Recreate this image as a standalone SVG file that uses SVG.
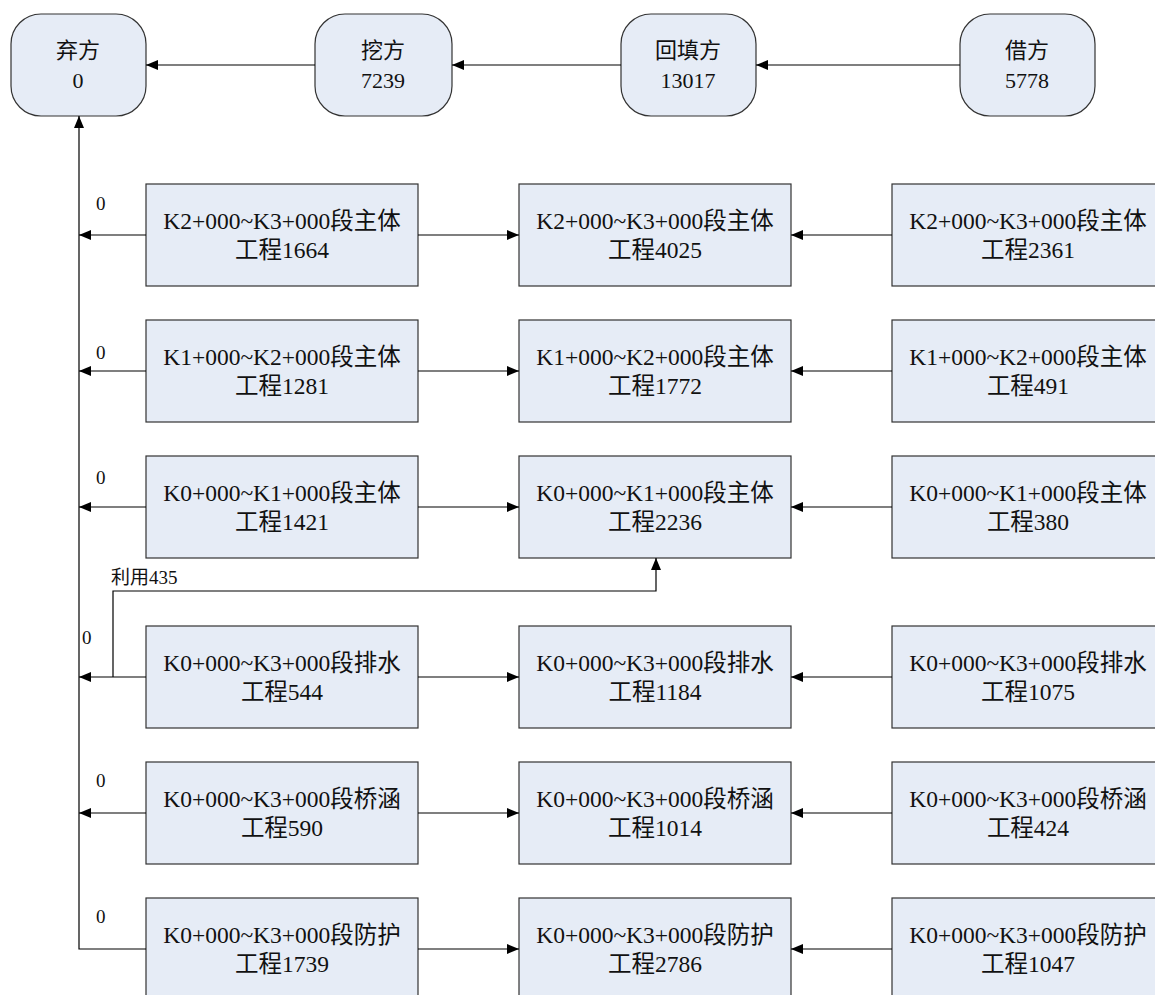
<svg xmlns="http://www.w3.org/2000/svg" width="1155" height="995" viewBox="0 0 1155 995">
  <defs>
    <marker id="arrow" viewBox="0 0 12 10" refX="12" refY="5" markerWidth="12" markerHeight="10" markerUnits="userSpaceOnUse" orient="auto">
      <path d="M0,0 L12,5 L0,10 Z" fill="#000"/>
    </marker>
    <style>
      .node { fill: #e6ecf6; stroke: #333; stroke-width: 1.2; }
      .lbl { font-family: "Liberation Serif", "Noto Sans CJK SC", serif; font-size: 22px; fill: #111; text-anchor: middle; }
      .sec { font-size: 23.5px; }
      .note { font-family: "Liberation Serif", "Noto Sans CJK SC", serif; font-size: 19px; fill: #111; }
      .edge-a { fill: none; stroke: #000; stroke-width: 1.2; marker-end: url(#arrow); }
    </style>
  </defs>
  <rect width="1155" height="995" fill="#fff"/>

  <!-- summary nodes -->
  <g id="qifang"><rect class="node" x="11" y="14" width="135" height="102" rx="30"/><text class="lbl" x="78" y="58">弃方</text><text class="lbl" x="78" y="88">0</text></g>
  <g id="wafang"><rect class="node" x="315" y="14" width="137" height="102" rx="30"/><text class="lbl" x="383" y="58">挖方</text><text class="lbl" x="383" y="88">7239</text></g>
  <g id="huitianfang"><rect class="node" x="621" y="14" width="135" height="102" rx="30"/><text class="lbl" x="688" y="58">回填方</text><text class="lbl" x="688" y="88">13017</text></g>
  <g id="jiefang"><rect class="node" x="960" y="14" width="135" height="102" rx="30"/><text class="lbl" x="1027" y="58">借方</text><text class="lbl" x="1027" y="88">5778</text></g>

  <!-- section nodes: left = excavation, middle = fill, right = borrow -->
  <g id="r1-left"><rect class="node" x="146" y="184" width="272" height="102"/><text class="lbl sec" x="282" y="229">K2+000~K3+000段主体</text><text class="lbl sec" x="282" y="258">工程1664</text></g>
  <g id="r1-mid"><rect class="node" x="519" y="184" width="272" height="102"/><text class="lbl sec" x="655" y="229">K2+000~K3+000段主体</text><text class="lbl sec" x="655" y="258">工程4025</text></g>
  <g id="r1-right"><rect class="node" x="892" y="184" width="272" height="102"/><text class="lbl sec" x="1028" y="229">K2+000~K3+000段主体</text><text class="lbl sec" x="1028" y="258">工程2361</text></g>

  <g id="r2-left"><rect class="node" x="146" y="320" width="272" height="102"/><text class="lbl sec" x="282" y="365">K1+000~K2+000段主体</text><text class="lbl sec" x="282" y="394">工程1281</text></g>
  <g id="r2-mid"><rect class="node" x="519" y="320" width="272" height="102"/><text class="lbl sec" x="655" y="365">K1+000~K2+000段主体</text><text class="lbl sec" x="655" y="394">工程1772</text></g>
  <g id="r2-right"><rect class="node" x="892" y="320" width="272" height="102"/><text class="lbl sec" x="1028" y="365">K1+000~K2+000段主体</text><text class="lbl sec" x="1028" y="394">工程491</text></g>

  <g id="r3-left"><rect class="node" x="146" y="456" width="272" height="102"/><text class="lbl sec" x="282" y="501">K0+000~K1+000段主体</text><text class="lbl sec" x="282" y="530">工程1421</text></g>
  <g id="r3-mid"><rect class="node" x="519" y="456" width="272" height="102"/><text class="lbl sec" x="655" y="501">K0+000~K1+000段主体</text><text class="lbl sec" x="655" y="530">工程2236</text></g>
  <g id="r3-right"><rect class="node" x="892" y="456" width="272" height="102"/><text class="lbl sec" x="1028" y="501">K0+000~K1+000段主体</text><text class="lbl sec" x="1028" y="530">工程380</text></g>

  <g id="r4-left"><rect class="node" x="146" y="626" width="272" height="102"/><text class="lbl sec" x="282" y="671">K0+000~K3+000段排水</text><text class="lbl sec" x="282" y="700">工程544</text></g>
  <g id="r4-mid"><rect class="node" x="519" y="626" width="272" height="102"/><text class="lbl sec" x="655" y="671">K0+000~K3+000段排水</text><text class="lbl sec" x="655" y="700">工程1184</text></g>
  <g id="r4-right"><rect class="node" x="892" y="626" width="272" height="102"/><text class="lbl sec" x="1028" y="671">K0+000~K3+000段排水</text><text class="lbl sec" x="1028" y="700">工程1075</text></g>

  <g id="r5-left"><rect class="node" x="146" y="762" width="272" height="102"/><text class="lbl sec" x="282" y="807">K0+000~K3+000段桥涵</text><text class="lbl sec" x="282" y="836">工程590</text></g>
  <g id="r5-mid"><rect class="node" x="519" y="762" width="272" height="102"/><text class="lbl sec" x="655" y="807">K0+000~K3+000段桥涵</text><text class="lbl sec" x="655" y="836">工程1014</text></g>
  <g id="r5-right"><rect class="node" x="892" y="762" width="272" height="102"/><text class="lbl sec" x="1028" y="807">K0+000~K3+000段桥涵</text><text class="lbl sec" x="1028" y="836">工程424</text></g>

  <g id="r6-left"><rect class="node" x="146" y="898" width="272" height="102"/><text class="lbl sec" x="282" y="943">K0+000~K3+000段防护</text><text class="lbl sec" x="282" y="972">工程1739</text></g>
  <g id="r6-mid"><rect class="node" x="519" y="898" width="272" height="102"/><text class="lbl sec" x="655" y="943">K0+000~K3+000段防护</text><text class="lbl sec" x="655" y="972">工程2786</text></g>
  <g id="r6-right"><rect class="node" x="892" y="898" width="272" height="102"/><text class="lbl sec" x="1028" y="943">K0+000~K3+000段防护</text><text class="lbl sec" x="1028" y="972">工程1047</text></g>

  <!-- connectors -->
  <g id="connectors">
    <line class="edge-a" x1="960" y1="65" x2="756" y2="65"/>
    <line class="edge-a" x1="621" y1="65" x2="452" y2="65"/>
    <line class="edge-a" x1="315" y1="65" x2="146" y2="65"/>
    <!-- spoil collector -->
    <path class="edge-a" d="M146,949 L79,949 L79,116"/>

    <line class="edge-a" x1="146" y1="235" x2="79" y2="235"/>
    <line class="edge-a" x1="418" y1="235" x2="519" y2="235"/>
    <line class="edge-a" x1="892" y1="235" x2="791" y2="235"/>

    <line class="edge-a" x1="146" y1="371" x2="79" y2="371"/>
    <line class="edge-a" x1="418" y1="371" x2="519" y2="371"/>
    <line class="edge-a" x1="892" y1="371" x2="791" y2="371"/>

    <line class="edge-a" x1="146" y1="507" x2="79" y2="507"/>
    <line class="edge-a" x1="418" y1="507" x2="519" y2="507"/>
    <line class="edge-a" x1="892" y1="507" x2="791" y2="507"/>

    <line class="edge-a" x1="146" y1="677" x2="79" y2="677"/>
    <line class="edge-a" x1="418" y1="677" x2="519" y2="677"/>
    <line class="edge-a" x1="892" y1="677" x2="791" y2="677"/>
    <!-- reuse branch -->
    <path class="edge-a" d="M113,677 L113,591 L656,591 L656,558"/>

    <line class="edge-a" x1="146" y1="813" x2="79" y2="813"/>
    <line class="edge-a" x1="418" y1="813" x2="519" y2="813"/>
    <line class="edge-a" x1="892" y1="813" x2="791" y2="813"/>

    <line class="edge-a" x1="418" y1="949" x2="519" y2="949"/>
    <line class="edge-a" x1="892" y1="949" x2="791" y2="949"/>

    <text class="note" x="96" y="210">0</text>
    <text class="note" x="96" y="359">0</text>
    <text class="note" x="96" y="484">0</text>
    <text class="note" x="111" y="584">利用435</text>
    <text class="note" x="82" y="644">0</text>
    <text class="note" x="96" y="787">0</text>
    <text class="note" x="96" y="923">0</text>
  </g>
</svg>
